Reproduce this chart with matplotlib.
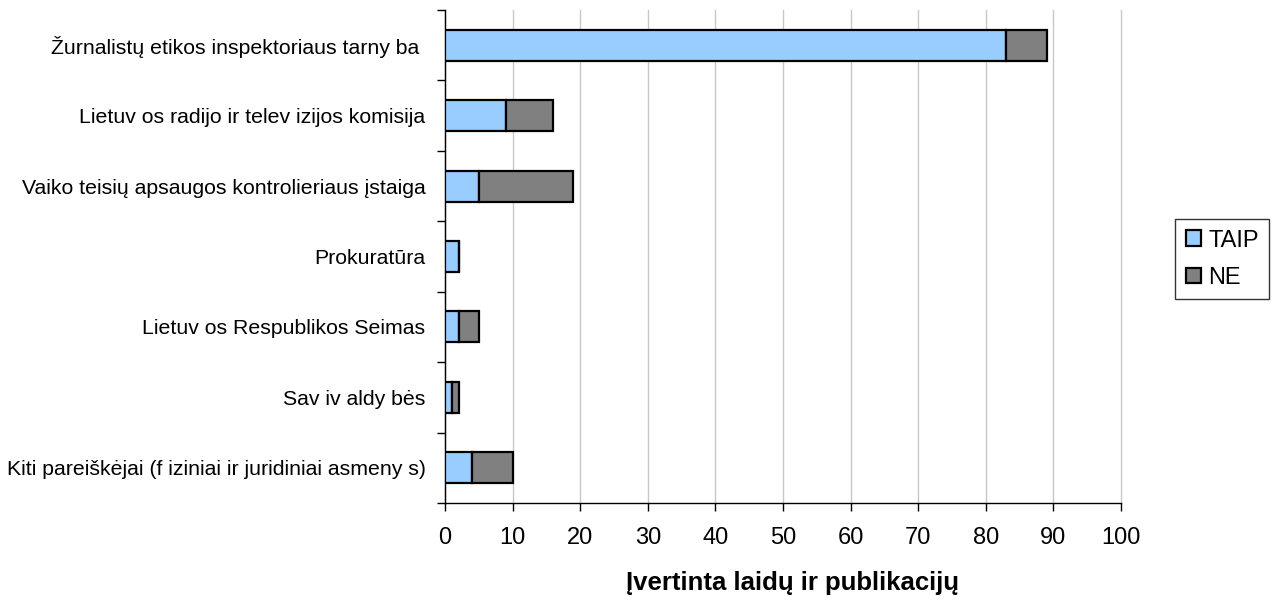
import numpy as np
import matplotlib
matplotlib.use("Agg")
import matplotlib.pyplot as plt
from matplotlib.ticker import FixedLocator, NullFormatter

plt.rcParams["font.family"] = ["Liberation Sans", "DejaVu Sans"]

categories = [
    "Žurnalistų etikos inspektoriaus tarny ba ",
    "Lietuv os radijo ir telev izijos komisija",
    "Vaiko teisių apsaugos kontrolieriaus įstaiga",
    "Prokuratūra",
    "Lietuv os Respublikos Seimas",
    "Sav iv aldy bės",
    "Kiti pareiškėjai (f iziniai ir juridiniai asmeny s)",
]
taip = [83, 9, 5, 2, 2, 1, 4]
ne = [6, 7, 14, 0, 3, 1, 6]
xticks = list(range(0, 101, 10))

fig = plt.figure(figsize=(12.8, 6.07), dpi=100)
ax = fig.add_axes([0.3477, 0.1713, 0.528, 0.8122])

# top category first
y = np.arange(len(categories))[::-1]
h = 0.44
b1 = ax.barh(y, taip, height=h, color="#99CCFF", edgecolor="black", linewidth=1.6,
             label="TAIP", zorder=3)
b2 = ax.barh(y, ne, left=taip, height=h, color="#808080", edgecolor="black",
             linewidth=1.6, label="NE", zorder=3)

ax.set_xlim(0, 100)
ax.set_ylim(-0.5, len(categories) - 0.5)
ax.set_xticks(xticks)
ax.tick_params(axis="x", labelsize=17, length=6, width=1, pad=11)
ax.grid(axis="x", color="#c8c8c8", linewidth=1, zorder=0)
for gl in ax.get_xgridlines():
    gl.set_clip_on(False)

# Excel-style: tick marks between categories, labels centred
ax.yaxis.set_major_locator(FixedLocator(np.arange(-0.5, len(categories), 1)))
ax.yaxis.set_major_formatter(NullFormatter())
ax.set_yticks(y, minor=True)
ax.set_yticklabels(categories, minor=True)
ax.tick_params(axis="y", which="major", length=6, width=1)
ax.tick_params(axis="y", which="minor", length=0, labelsize=15.3, pad=14)

for s in ["top", "right"]:
    ax.spines[s].set_visible(False)
ax.spines["left"].set_linewidth(1)
ax.spines["bottom"].set_linewidth(1)

ax.set_xlabel("Įvertinta laidų ir publikacijų", fontsize=18.5, fontweight="bold",
              labelpad=16)
ax.xaxis.label.set_x(0.514)

fig.legend(handles=[b1, b2], labels=["TAIP", "NE"], loc="center",
           bbox_to_anchor=(0.955, 0.573), fontsize=17, frameon=True,
           fancybox=False, edgecolor="black", handlelength=0.65,
           handleheight=0.65, handletextpad=0.3, labelspacing=0.65,
           borderpad=0.45, borderaxespad=0)

fig.savefig("out.png", dpi=100)
